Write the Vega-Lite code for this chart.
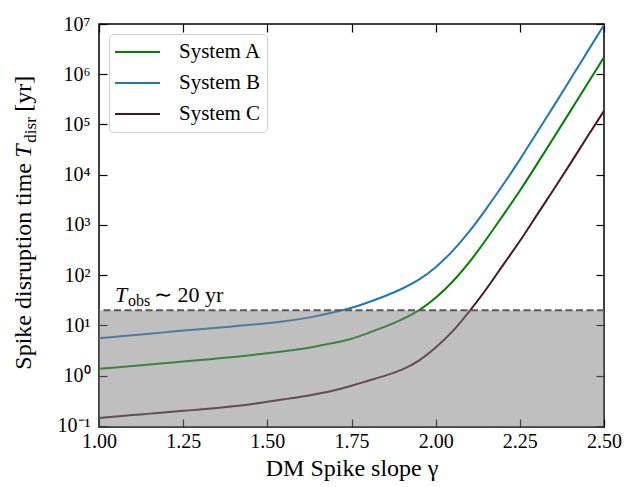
{
  "$schema": "https://vega.github.io/schema/vega-lite/v6.json",
  "width": 505,
  "height": 403,
  "autosize": {"type": "none"},
  "padding": {"left": 99, "top": 24, "right": 35, "bottom": 60},
  "config": {
    "font": "Liberation Serif",
    "view": {"stroke": "#000", "strokeWidth": 1.5},
    "axis": {
      "grid": false, "domain": false, "tickColor": "#000", "tickWidth": 1.2, "tickSize": -8,
      "labelFontSize": 20, "labelColor": "#000", "titleColor": "#000", "labelFlush": false,
      "labelFont": "Liberation Serif", "titleFont": "Liberation Serif"
    }
  },
  "data": {"values": [
    {"gamma":1.00,"system":"System A","T":1.365},{"gamma":1.00,"system":"System B","T":5.56},{"gamma":1.00,"system":"System C","T":0.1429},
    {"gamma":1.05,"system":"System A","T":1.455},{"gamma":1.05,"system":"System B","T":5.96},{"gamma":1.05,"system":"System C","T":0.1531},
    {"gamma":1.10,"system":"System A","T":1.56},{"gamma":1.10,"system":"System B","T":6.38},{"gamma":1.10,"system":"System C","T":0.1641},
    {"gamma":1.15,"system":"System A","T":1.671},{"gamma":1.15,"system":"System B","T":6.84},{"gamma":1.15,"system":"System C","T":0.1754},
    {"gamma":1.20,"system":"System A","T":1.786},{"gamma":1.20,"system":"System B","T":7.35},{"gamma":1.20,"system":"System C","T":0.1875},
    {"gamma":1.25,"system":"System A","T":1.905},{"gamma":1.25,"system":"System B","T":7.89},{"gamma":1.25,"system":"System C","T":0.1995},
    {"gamma":1.30,"system":"System A","T":2.042},{"gamma":1.30,"system":"System B","T":8.41},{"gamma":1.30,"system":"System C","T":0.2113},
    {"gamma":1.35,"system":"System A","T":2.188},{"gamma":1.35,"system":"System B","T":8.97},{"gamma":1.35,"system":"System C","T":0.2265},
    {"gamma":1.40,"system":"System A","T":2.355},{"gamma":1.40,"system":"System B","T":9.59},{"gamma":1.40,"system":"System C","T":0.2455},
    {"gamma":1.45,"system":"System A","T":2.553},{"gamma":1.45,"system":"System B","T":10.28},{"gamma":1.45,"system":"System C","T":0.2692},
    {"gamma":1.50,"system":"System A","T":2.786},{"gamma":1.50,"system":"System B","T":11.09},{"gamma":1.50,"system":"System C","T":0.302},
    {"gamma":1.55,"system":"System A","T":3.069},{"gamma":1.55,"system":"System B","T":12.11},{"gamma":1.55,"system":"System C","T":0.3388},
    {"gamma":1.60,"system":"System A","T":3.388},{"gamma":1.60,"system":"System B","T":13.49},{"gamma":1.60,"system":"System C","T":0.3802},
    {"gamma":1.65,"system":"System A","T":3.89},{"gamma":1.65,"system":"System B","T":15.49},{"gamma":1.65,"system":"System C","T":0.4365},
    {"gamma":1.70,"system":"System A","T":4.519},{"gamma":1.70,"system":"System B","T":18.41},{"gamma":1.70,"system":"System C","T":0.5129},
    {"gamma":1.75,"system":"System A","T":5.433},{"gamma":1.75,"system":"System B","T":22.39},{"gamma":1.75,"system":"System C","T":0.631},
    {"gamma":1.80,"system":"System A","T":7.079},{"gamma":1.80,"system":"System B","T":28.84},{"gamma":1.80,"system":"System C","T":0.7943},
    {"gamma":1.85,"system":"System A","T":9.441},{"gamma":1.85,"system":"System B","T":38.46},{"gamma":1.85,"system":"System C","T":1.0},
    {"gamma":1.90,"system":"System A","T":13.18},{"gamma":1.90,"system":"System B","T":53.7},{"gamma":1.90,"system":"System C","T":1.318},
    {"gamma":1.95,"system":"System A","T":19.95},{"gamma":1.95,"system":"System B","T":81.28},{"gamma":1.95,"system":"System C","T":1.995},
    {"gamma":2.00,"system":"System A","T":35.48},{"gamma":2.00,"system":"System B","T":144.5},{"gamma":2.00,"system":"System C","T":3.631},
    {"gamma":2.05,"system":"System A","T":74.13},{"gamma":2.05,"system":"System B","T":302},{"gamma":2.05,"system":"System C","T":7.586},
    {"gamma":2.10,"system":"System A","T":182},{"gamma":2.10,"system":"System B","T":741},{"gamma":2.10,"system":"System C","T":19.05},
    {"gamma":2.15,"system":"System A","T":512.9},{"gamma":2.15,"system":"System B","T":2089},{"gamma":2.15,"system":"System C","T":52.48},
    {"gamma":2.20,"system":"System A","T":1549},{"gamma":2.20,"system":"System B","T":6310},{"gamma":2.20,"system":"System C","T":158.5},
    {"gamma":2.25,"system":"System A","T":4786},{"gamma":2.25,"system":"System B","T":19950},{"gamma":2.25,"system":"System C","T":478.6},
    {"gamma":2.30,"system":"System A","T":15850},{"gamma":2.30,"system":"System B","T":67610},{"gamma":2.30,"system":"System C","T":1549},
    {"gamma":2.35,"system":"System A","T":53700},{"gamma":2.35,"system":"System B","T":229100},{"gamma":2.35,"system":"System C","T":5012},
    {"gamma":2.40,"system":"System A","T":184100},{"gamma":2.40,"system":"System B","T":794300},{"gamma":2.40,"system":"System C","T":16600},
    {"gamma":2.45,"system":"System A","T":631000},{"gamma":2.45,"system":"System B","T":2754000},{"gamma":2.45,"system":"System C","T":56230},
    {"gamma":2.50,"system":"System A","T":2188000},{"gamma":2.50,"system":"System B","T":9550000},{"gamma":2.50,"system":"System C","T":186200}
  ]},
  "layer": [
    {
      "mark": {"type": "line", "strokeWidth": 2, "interpolate": "natural"},
      "encoding": {
        "x": {"field": "gamma", "type": "quantitative",
          "scale": {"domain": [1, 2.5], "nice": false, "zero": false},
          "axis": {"values": [1, 1.25, 1.5, 1.75, 2, 2.25, 2.5], "format": ".2f", "labelPadding": 12,
            "title": "DM Spike slope γ", "titleFontSize": 24, "titleFontWeight": "normal",
            "titleBaseline": "alphabetic", "titleY": 48}},
        "y": {"field": "T", "type": "quantitative",
          "scale": {"type": "log", "domain": [0.095, 10000000], "nice": false},
          "axis": {"values": [0.1, 1, 10, 100, 1000, 10000, 100000, 1000000, 10000000],
            "labelExpr": "'10' + ['⁻¹','⁰','¹','²','³','⁴','⁵','⁶','⁷'][round(log(datum.value)/LN10)+1]",
            "labelPadding": 17, "title": null}},
        "color": {"field": "system", "type": "nominal",
          "scale": {"domain": ["System A", "System B", "System C"], "range": ["#008000", "#1f77b4", "#45182a"]},
          "legend": {"orient": "top-left", "offset": 10, "padding": 5, "title": null,
            "symbolType": "stroke", "symbolSize": 2025, "symbolStrokeWidth": 2,
            "clipHeight": 26, "rowPadding": 5,
            "labelFont": "Liberation Serif", "labelFontSize": 21, "labelColor": "#000", "labelOffset": 18,
            "strokeColor": "#d0d0d0", "cornerRadius": 4, "fillColor": "#ffffff"}}
      }
    },
    {
      "mark": {"type": "point", "opacity": 0},
      "encoding": {
        "x": {"field": "gamma", "type": "quantitative",
          "axis": {"orient": "top", "labels": false, "title": null, "values": [1, 1.25, 1.5, 1.75, 2, 2.25, 2.5]}},
        "y": {"field": "T", "type": "quantitative",
          "axis": {"orient": "right", "labels": false, "title": null, "values": [0.1, 1, 10, 100, 1000, 10000, 100000, 1000000, 10000000]}}
      }
    },
    {
      "data": {"values": [{}]},
      "mark": {"type": "rect", "fill": "gray", "opacity": 0.5},
      "encoding": {
        "x": {"datum": 1, "type": "quantitative", "axis": null}, "x2": {"datum": 2.5},
        "y": {"datum": 0.095, "type": "quantitative", "axis": null}, "y2": {"datum": 20}
      }
    },
    {
      "data": {"values": [{}]},
      "mark": {"type": "rule", "stroke": "#5a5a5a", "strokeWidth": 2, "strokeDash": [7, 3.5]},
      "encoding": {"y": {"datum": 20, "type": "quantitative", "axis": null}}
    },
    {
      "data": {"values": [{}]},
      "mark": {"type": "text", "text": "T", "fontStyle": "italic", "fontSize": 22, "align": "left", "baseline": "alphabetic", "dx": 16, "dy": -8, "color": "#000"},
      "encoding": {"x": {"datum": 1, "type": "quantitative", "axis": null}, "y": {"datum": 20, "type": "quantitative", "axis": null}}
    },
    {
      "data": {"values": [{}]},
      "mark": {"type": "text", "text": "obs", "fontSize": 16, "align": "left", "baseline": "alphabetic", "dx": 29, "dy": -4, "color": "#000"},
      "encoding": {"x": {"datum": 1, "type": "quantitative", "axis": null}, "y": {"datum": 20, "type": "quantitative", "axis": null}}
    },
    {
      "data": {"values": [{}]},
      "mark": {"type": "text", "text": "∼ 20 yr", "fontSize": 22, "align": "left", "baseline": "alphabetic", "dx": 55, "dy": -8, "color": "#000"},
      "encoding": {"x": {"datum": 1, "type": "quantitative", "axis": null}, "y": {"datum": 20, "type": "quantitative", "axis": null}}
    },
    {
      "data": {"values": [{}]},
      "mark": {"type": "text", "text": "Spike disruption time", "fontSize": 24, "angle": 270, "align": "left", "baseline": "alphabetic", "dx": -195, "dy": -68, "color": "#000"},
      "encoding": {"x": {"datum": 1, "type": "quantitative", "axis": null}, "y": {"datum": 10000, "type": "quantitative", "axis": null}}
    },
    {
      "data": {"values": [{}]},
      "mark": {"type": "text", "text": "T", "fontStyle": "italic", "fontSize": 24, "angle": 270, "align": "left", "baseline": "alphabetic", "dx": 17, "dy": -68, "color": "#000"},
      "encoding": {"x": {"datum": 1, "type": "quantitative", "axis": null}, "y": {"datum": 10000, "type": "quantitative", "axis": null}}
    },
    {
      "data": {"values": [{}]},
      "mark": {"type": "text", "text": "disr", "fontSize": 17, "angle": 270, "align": "left", "baseline": "alphabetic", "dx": 32, "dy": -63, "color": "#000"},
      "encoding": {"x": {"datum": 1, "type": "quantitative", "axis": null}, "y": {"datum": 10000, "type": "quantitative", "axis": null}}
    },
    {
      "data": {"values": [{}]},
      "mark": {"type": "text", "text": "[yr]", "fontSize": 24, "angle": 270, "align": "left", "baseline": "alphabetic", "dx": 63, "dy": -68, "color": "#000"},
      "encoding": {"x": {"datum": 1, "type": "quantitative", "axis": null}, "y": {"datum": 10000, "type": "quantitative", "axis": null}}
    }
  ],
  "resolve": {"axis": {"x": "independent", "y": "independent"}}
}
